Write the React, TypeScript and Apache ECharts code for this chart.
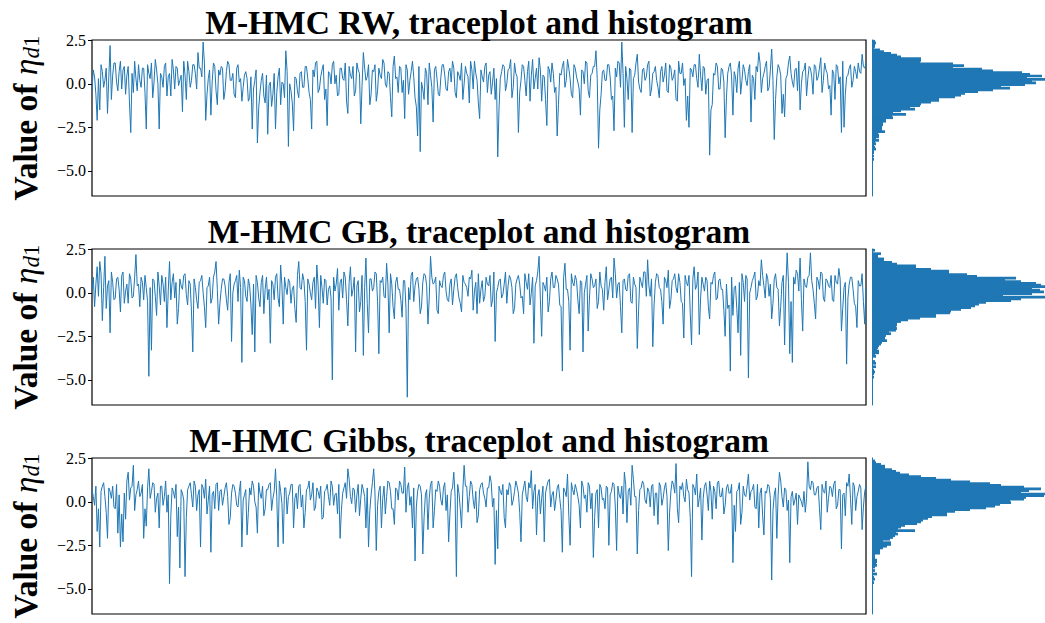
import React, { useEffect, useRef } from "react";
import * as echarts from "echarts";

// Panel titles
const titles = [
  "M-HMC RW, traceplot and histogram",
  "M-HMC GB, traceplot and histogram",
  "M-HMC Gibbs, traceplot and histogram",
];

// Y tick labels
const yTicks = [-5, -2.5, 0, 2.5];
const yMin = -6.45;
const yMax = 2.52;

// Traceplot values: even iterations
const traceRW = [
  -0.3, 0.4, -2.1, -1.5, 0.7, 0.2, -1.7, 2.2, 0.5, 1.2, -0.4, 1.3, 0.8, -0.6, 1.0, -2.8, -0.5, 0.3, 1.1, -0.2,
  0.9, -2.6, 0.6, 1.2, 0.1, 0.8, -2.6, 0.4, 1.0, -0.7, 0.6, 1.4, -0.3, 0.9, 0.2, -1.6, 0.5, 1.3, -0.2, 1.1,
  0.6, 1.8, 0.9, 2.4, -2.1, 0.3, -1.8, 1.2, -0.4, 0.8, 1.0, -0.9, 0.7, 1.1, 0.2, -0.6, 0.9, 0.1, -1.0, 0.5,
  0.3, -0.8, -2.6, 0.2, -3.4, -0.5, 0.6, -1.1, -2.9, 0.1, -0.6, -2.6, 0.4, -1.2, 0.0, 1.9, -3.6, -0.4, -2.7, 0.3,
  -0.8, 0.7, -0.2, 1.0, -0.5, -2.6, 0.4, 1.3, -0.3, 0.8, -0.9, -2.4, 0.6, 1.1, 0.0, -0.7, 0.9, 0.3, 1.2, -1.7,
  0.5, 1.0, -0.4, 0.8, -2.3, 1.8, 0.2, 1.1, -0.6, 0.7, -1.0, 0.9, 0.3, 1.2, -0.2, 0.6, -1.9, 1.6, 0.4, 1.0,
  -0.5, -2.0, 0.8, 0.2, 1.3, -0.8, -3.0, -3.9, -0.3, 0.9, -1.2, 0.5, -2.2, 1.0, -0.6, 0.4, 1.1, -0.3, 0.7, 0.1,
  0.9, -0.8, 0.5, 1.2, 0.0, 0.6, -1.1, 0.8, 1.3, 0.2, -2.0, 0.4, 1.0, -0.5, 0.7, 0.1, -0.9, -4.2, 0.3, 1.1,
  -0.4, 0.8, 1.4, -0.2, 0.6, -2.8, 0.2, 1.0, -0.7, 1.3, 0.5, -0.3, 0.9, 1.5, -1.0, 0.4, -2.4, 0.8, 1.2, -0.5,
  -3.0, 0.6, 1.0, -0.2, 1.4, 0.3, -0.8, 0.9, 0.1, -1.8, 0.7, 1.3, -0.4, 0.5, 1.0, 1.9, -3.7, -0.6, 0.8, 0.2,
  1.1, -0.9, -2.7, 0.4, 1.2, 2.4, -2.5, 0.3, 0.9, -2.8, 0.5, 1.7, -0.3, 0.8, 0.2, 1.1, -0.7, 0.6, 1.0, -0.2,
  0.7, 0.1, 1.2, -0.5, 0.9, 0.4, -0.9, 1.3, 0.6, -0.1, -2.1, -2.5, 0.8, 1.1, 0.3, 1.7, -0.4, 0.9, 0.2, -4.1,
  -1.2, 0.5, 1.0, -0.3, 0.8, -3.1, 0.6, 1.2, -1.8, 0.4, 0.9, -0.6, 1.1, 0.2, 0.7, -2.2, 0.3, 1.0, 1.8, -0.5,
  0.6, 1.3, -0.2, 2.0, -3.2, 0.4, 0.9, -1.7, -1.9, 0.5, 1.6, 0.1, 0.8, -0.4, -1.5, 0.7, 1.2, 0.3, 0.9, -0.6,
  1.0, 0.4, 1.5, 0.2, 0.8, -0.3, -1.8, 0.6, 1.1, 0.0, -2.8, -2.5, 0.4, 0.9, -0.2, 1.0, 0.3, 0.7, 1.7, 0.9,
];
// odd iterations
const traceRWOdd = [
  0.8, -0.6, 0.3, 1.1, -0.2, 0.9, 0.4, -0.9, 1.2, 0.1, 0.7, -0.3, 1.0, 0.5, -1.1, 0.6, 1.3, -0.4, 0.2, 0.9,
  -0.5, 1.1, 0.3, -0.8, 1.4, 0.0, 0.6, -0.2, 1.2, 0.4, -0.7, 0.8, 1.0, -0.1, 0.5, 1.3, -0.9, 0.7, 0.2, 1.1,
  -0.3, 0.9, 0.4, 1.2, -0.6, 0.8, 0.1, 1.0, -1.2, 0.5, 0.9, -0.4, 1.3, 0.2, 0.6, -0.8, 1.1, 0.3, -0.2, 0.7,
  -1.0, 0.4, -0.3, 0.8, -1.4, 0.2, -0.7, 0.5, -0.1, -1.3, 0.6, -0.5, 0.9, 0.1, -0.8, 0.7, 0.0, -1.1, 0.4, -0.4,
  0.6, -0.2, 1.0, 0.3, -0.9, 0.8, 1.2, -0.5, 0.4, 1.1, -0.3, 0.7, 0.0, 1.3, 0.5, -0.6, 0.9, 0.2, -1.0, 1.0,
  0.3, -0.7, 1.2, 0.6, -0.1, 0.9, 0.4, -1.2, 0.8, 1.1, -0.4, 0.5, 1.4, 0.0, 0.7, -0.8, 1.0, 0.3, -0.5, 0.9,
  0.2, 1.1, -0.6, 0.7, 0.4, -1.3, 1.0, 0.1, -0.9, 0.6, 1.2, -0.2, 0.8, 0.3, -0.7, 1.1, 0.5, -0.4, 0.9, 1.3,
  -0.5, 0.7, 0.2, -0.9, 1.0, 0.4, 1.3, -0.3, 0.6, -1.1, 0.8, 0.1, 1.2, 0.5, -0.6, 0.9, 0.3, -1.4, 0.7, 1.0,
  0.0, 0.9, -0.8, 1.2, 0.4, -0.5, 1.1, 0.2, 0.7, -1.0, 1.4, 0.3, -0.3, 0.8, 0.5, -0.9, 1.0, 0.1, 0.6, -0.2,
  -1.2, 0.5, 1.3, 0.2, 0.9, -0.6, 1.1, 0.4, -0.3, 0.8, 0.0, 1.2, -0.8, 0.6, 1.0, 0.3, -1.5, 0.7, 0.2, 1.1,
  0.4, -0.7, 0.9, 1.3, -0.2, 0.6, 1.0, -0.9, 0.8, 0.3, 1.2, 0.1, -0.5, 0.9, 0.4, 1.3, -0.3, 0.7, 0.2, -0.8,
  1.0, 0.5, -0.4, 1.1, 0.2, 0.8, -1.0, 0.6, 1.2, 0.3, -0.7, 0.9, 0.4, 1.1, -0.2, 0.5, 1.0, -0.6, 0.3, -1.5,
  0.6, 1.2, -0.3, 0.9, 0.1, -0.8, 1.0, 0.4, 0.7, -0.5, 1.3, 0.2, 0.8, -0.1, 1.1, 0.5, -0.9, 0.7, 1.2, 0.3,
  1.0, -0.4, 0.8, 0.2, -0.9, 1.1, 0.5, -0.6, 0.3, 1.2, 0.6, -0.2, 0.9, 1.3, 0.0, 0.8, -0.7, 1.0, 0.4, 1.1,
  0.2, 0.9, -0.5, 1.2, 0.6, -0.1, 0.8, -0.9, 1.0, 0.4, 1.3, -0.6, 0.5, 1.1, 0.2, 0.7, 1.2, 0.6, 1.0, 1.2,
];

const traceGB = [
  0.2, -0.8, 1.5, 1.8, -1.6, 2.1, 0.4, -2.3, 0.6, -0.3, 0.9, -1.1, 1.2, 0.1, -0.6, 0.8, -0.2, 2.2, 0.5, 0.9,
  -0.4, 0.3, -4.8, -3.3, 0.7, -1.3, 0.4, 1.0, -0.5, -2.0, 1.8, 0.6, -0.3, -1.8, 0.8, 0.2, 1.1, -0.7, 0.5, -3.4,
  0.3, -0.9, 0.7, 0.0, -2.0, 0.4, -0.6, 0.9, 1.8, -1.8, 0.2, 0.8, -0.4, 0.6, -2.8, 0.5, 1.0, 1.3, -4.0, 0.7,
  -0.5, 0.4, -2.4, -3.4, 0.6, -0.8, 1.0, 0.2, -0.4, -2.9, 0.5, 0.9, -0.3, 1.6, -1.8, 0.3, 0.8, -0.6, 0.4, -1.7,
  1.8, 0.2, 0.7, -3.3, 0.5, -0.4, 0.9, 1.6, -2.0, 0.3, 0.8, -0.7, 0.4, -5.0, 0.1, 1.4, 0.6, -0.3, 0.9, -1.9,
  1.5, 0.2, -3.4, 0.7, -0.5, -3.6, 2.0, -2.3, 0.8, 0.3, 1.1, -3.5, 0.6, -0.2, 1.7, -2.3, 0.5, -1.5, 0.9, 0.2,
  -1.4, 0.7, -6.0, -0.4, 1.2, 0.4, 0.9, -1.2, 0.6, 1.0, -1.8, 2.1, 0.5, 0.9, -1.2, 0.4, 1.0, 0.1, -0.5, 0.8,
  0.2, 1.1, -0.3, -1.1, 0.6, 0.3, 0.9, 1.3, 0.1, -1.2, -0.6, 0.7, -0.2, 0.5, 1.0, -0.4, -2.8, 0.3, 0.8, -0.1,
  1.2, 0.4, 0.8, -1.2, 0.5, 1.0, -0.3, -1.2, 0.6, 1.1, 0.0, -2.9, 0.7, 2.1, -2.5, 0.4, 0.9, -0.5, 1.2, 0.3,
  0.8, -0.7, -4.5, 1.7, 0.2, -3.3, 0.6, 1.0, -0.4, 0.7, -3.4, 0.5, -2.2, 1.1, 0.3, 0.8, -0.5, 0.4, -1.0, 1.5,
  0.2, 0.9, 2.0, -0.3, 0.6, -2.3, 0.8, 0.1, 1.1, -0.6, 0.5, -3.2, 0.9, 0.3, 1.2, 1.9, -0.2, -3.1, 0.6, 1.0,
  0.2, -1.8, 0.7, 1.3, -0.4, 0.8, 0.3, 1.1, -0.5, -2.6, 0.6, 1.0, -3.0, 1.5, 0.4, -2.4, 0.9, 0.1, 0.7, -1.5,
  0.5, 1.2, -0.3, 0.8, 0.2, -2.5, -0.9, -4.5, -1.3, 0.4, -2.3, -3.6, 0.6, 1.0, -4.9, 0.3, 0.9, -0.4, 0.7, 1.9,
  0.4, 1.1, -0.2, -1.5, 0.8, 0.3, -1.9, 0.6, -3.0, 2.3, -3.5, -4.0, 0.5, 1.1, 2.0, -2.2, 0.4, 0.9, 2.3, 0.2,
  -1.5, 0.7, 1.2, -0.3, 0.8, 0.4, 1.0, -0.5, 0.6, 1.4, -2.2, 0.3, -4.1, 0.5, 0.9, -0.6, -2.0, 0.4, 1.1, -1.8,
];
const traceGBOdd = [
  0.9, 0.5, -0.2, 1.1, 0.3, -0.9, 0.7, 1.2, -0.4, 0.8, 0.2, 1.0, -0.6, 0.5, 1.1, -0.3, 0.9, 0.4, -0.8, 0.6,
  1.0, -0.5, 0.3, 0.8, -0.2, 1.2, -0.7, 0.5, 0.9, 0.1, -0.4, 1.1, 0.6, -0.9, 0.4, 1.0, -0.1, 0.7, -1.1, 0.8,
  -0.4, 0.6, 1.0, -0.8, 0.3, 0.9, -0.3, 1.2, 0.2, -0.6, 0.8, 0.4, -1.0, 1.1, 0.0, 0.7, -0.5, 0.3, 0.9, -0.2,
  0.8, -0.7, 0.5, 1.0, -0.3, 0.6, -1.2, 0.9, 0.2, 0.7, -0.4, 1.1, -0.8, 0.4, 0.9, -0.1, 0.6, 0.2, -0.9, 1.0,
  0.3, 1.1, -0.5, 0.8, 0.0, 0.6, -0.9, 0.4, 1.0, -0.6, 0.7, 0.2, -0.3, 0.9, 0.5, -1.0, 0.8, 1.2, -0.4, 0.6,
  -0.2, 0.9, 0.4, -1.1, 1.0, 0.3, -0.6, 0.8, 0.1, 1.2, -0.5, 0.7, 0.9, -0.3, 0.5, 1.1, -0.8, 0.6, 0.2, -0.4,
  0.7, -0.9, 0.3, 1.0, -0.5, 0.8, 0.2, -0.8, 1.1, 0.4, -0.3, 0.9, 0.6, -1.0, 0.7, 0.3, 1.2, -0.4, 0.5, -0.7,
  0.9, 0.3, -0.6, 1.0, 0.5, -0.2, 0.8, -1.0, 0.6, 1.1, 0.2, -0.5, 0.9, 0.4, -0.8, 1.2, 0.0, 0.7, -0.3, 0.5,
  -0.6, 1.0, 0.3, -0.9, 0.8, 0.5, -0.2, 1.1, 0.2, -0.7, 0.9, 0.4, 1.2, -0.4, 0.6, 0.1, -1.1, 0.8, 0.3, 1.0,
  0.5, -0.8, 0.9, 0.2, -0.5, 1.1, 0.4, 0.7, -1.2, 0.6, 0.0, 1.0, -0.3, 0.8, 0.4, -0.9, 1.2, 0.2, 0.6, -0.4,
  0.8, -0.3, 1.1, 0.5, -0.8, 0.7, 0.2, 1.0, -0.5, 0.9, 0.3, -1.0, 0.6, 1.2, -0.2, 0.4, 0.8, -0.7, 1.1, 0.3,
  -0.5, 0.9, 0.3, -0.9, 0.7, 1.1, 0.0, 0.6, -0.6, 1.0, 0.4, -1.2, 0.8, 0.2, 1.2, -0.3, 0.5, 0.9, -0.8, 0.6,
  1.0, -0.4, 0.7, 0.2, -1.0, 0.5, -0.7, 0.9, 0.3, -0.9, 0.6, 1.1, -0.5, 0.8, 0.0, 0.7, 1.2, -0.2, 0.4, 1.0,
  -0.3, 0.8, 0.5, -0.6, 1.1, 0.2, -0.8, 1.0, 0.4, 0.6, -0.5, 0.9, 1.3, 0.1, -0.4, 0.8, 0.3, 1.0, 0.7, -0.6,
  0.9, 0.2, 1.1, -0.5, 0.7, 0.3, -0.4, 1.0, 0.5, 0.8, -0.9, 0.6, -0.3, 0.9, 0.2, -0.8, 0.7, 0.4, -0.5, 0.3,
];

const traceGibbs = [
  0.7, -0.2, -1.7, -2.6, 0.9, 0.3, -2.1, 0.6, 0.9, -0.4, -1.8, -2.6, -2.3, -1.0, 1.7, 0.8, 2.1, 0.4, 1.2, 0.5,
  -2.1, -1.4, 1.9, 0.6, 1.0, 0.2, -1.5, 0.9, 0.3, -0.6, -4.7, 0.8, 0.2, -2.0, -3.8, 0.5, -4.3, 0.7, 1.1, -0.3,
  0.9, 0.4, -2.6, 0.8, 1.3, 0.1, -2.9, 0.6, 1.0, -0.5, 0.7, 0.3, 1.1, -1.3, 0.5, 0.9, -0.2, 0.6, -2.6, 0.4,
  -1.9, 0.8, 1.2, 0.0, -1.8, 0.5, 0.9, -0.4, 0.7, 1.1, 0.2, 1.9, -2.6, 0.6, -2.4, 0.8, 0.3, 1.0, -1.5, 0.5,
  0.9, -0.3, -1.5, 0.7, 1.2, 0.4, -0.5, 0.8, 0.2, -1.0, 0.6, 1.0, -0.2, 0.9, 0.4, -0.7, -2.1, 0.5, 1.1, 1.9,
  0.3, 0.8, -0.6, 1.0, 0.2, 0.7, -1.5, -2.6, 0.4, 1.9, -2.8, 0.6, -1.5, 0.9, 0.3, 1.1, -0.4, -1.3, 0.7, 1.2,
  0.5, 2.0, 0.8, -0.2, -1.5, -3.4, 0.6, 0.9, -3.0, 0.4, -1.6, 1.0, -1.5, 0.7, 1.2, 0.1, 0.8, -0.5, -2.3, 0.6,
  1.7, -4.3, 0.5, -1.5, 2.1, 0.9, 0.3, 1.0, -0.4, -1.2, 0.7, 1.1, 0.2, 0.8, 1.5, -0.3, -3.6, -2.7, 0.6, 1.0,
  -1.5, 0.4, 0.9, 0.1, 1.2, 0.5, -2.3, 0.8, 0.3, 1.1, 1.8, 0.6, -1.9, 0.7, 0.2, -2.3, 0.9, 1.3, 0.4, -0.5,
  0.8, 0.2, -2.9, 0.6, 1.6, -2.5, 0.7, 1.0, 0.3, -1.5, 0.9, 0.4, 1.1, -0.4, -3.2, 0.5, -1.5, 0.8, 0.2, 0.9,
  -2.5, 0.6, 1.0, -2.8, 0.4, 0.9, 1.7, -1.2, 0.8, 2.1, 0.3, -3.0, 0.7, 1.2, 0.1, 0.8, -0.3, 1.0, 0.5, -1.3,
  0.9, 0.2, 1.1, -2.8, 0.6, 1.0, 2.2, -1.2, 0.7, 0.3, 1.3, 0.5, -4.3, 0.8, 1.6, 0.2, -2.2, 0.9, 0.4, 1.2,
  -1.0, 0.6, 1.1, 0.3, 0.8, -0.2, 1.0, 0.5, -3.5, -1.7, 0.7, -1.3, 0.9, 0.3, 1.6, 0.6, 1.0, -0.4, -1.5, 0.8,
  -1.9, 0.5, 0.9, -4.5, 0.4, -2.1, 1.7, 0.3, 0.8, -0.5, -3.5, 0.6, 0.1, -1.3, 0.2, -0.3, -0.6, 2.3, 0.7, 1.1,
  0.4, 0.9, -1.6, 0.6, 1.2, 0.2, 0.8, 1.0, -0.4, 0.7, -2.7, 0.5, 1.1, 1.6, -1.3, 0.9, 0.3, 1.0, -1.6, 0.6,
];
const traceGibbsOdd = [
  0.3, 0.9, -0.4, 0.6, 1.1, -0.6, 0.8, 0.2, -0.3, 1.0, 0.4, -0.7, 0.5, 1.2, 0.1, 0.9, -0.5, 0.7, 0.3, 1.0,
  -0.4, 0.8, 0.2, 1.1, -0.6, 0.5, 0.9, -0.2, 1.2, 0.4, -0.8, 0.6, 1.0, -0.3, 0.7, 0.1, -0.9, 0.9, 0.4, 1.2,
  -0.5, 0.7, 1.0, 0.2, -0.7, 0.9, 0.4, -0.4, 1.1, 0.6, -0.2, 0.8, 0.3, -0.9, 1.0, 0.5, -0.3, 1.2, 0.1, 0.7,
  -0.6, 0.4, 0.9, -0.3, 1.1, 0.2, -0.8, 0.7, 1.0, -0.5, 0.6, 0.3, 1.2, -0.1, 0.8, -0.7, 0.5, 1.0, 0.2, -0.4,
  1.0, 0.4, -0.6, 0.8, 0.1, 1.1, -0.3, 0.6, 0.9, -0.9, 0.7, 0.3, 1.2, -0.2, 0.5, 1.0, -0.5, 0.8, 0.2, 1.3,
  -0.1, 0.7, 0.4, -0.8, 1.0, 0.3, 0.8, -0.5, 1.1, 0.5, -0.2, 0.9, 0.2, -0.7, 1.2, 0.6, -0.4, 0.8, 0.1, 1.0,
  0.5, -0.6, 1.1, 0.3, 0.8, -0.3, 1.0, 0.4, -0.9, 0.7, 0.2, 1.2, -0.5, 0.6, 0.9, -0.2, 1.1, 0.4, -0.7, 0.8,
  0.3, 1.0, -0.4, 0.7, 0.9, -0.6, 1.2, 0.1, 0.6, -0.8, 1.0, 0.5, -0.3, 0.8, 1.1, 0.2, -0.5, 0.9, 0.4, -0.9,
  0.7, 1.1, -0.2, 0.6, 0.9, -0.6, 0.4, 1.2, 0.0, 0.8, -0.4, 1.0, 0.3, -0.7, 0.9, 0.5, 1.2, -0.3, 0.6, 0.1,
  1.0, -0.5, 0.8, 0.3, -0.8, 1.1, 0.4, 0.7, -0.2, 1.2, 0.2, -0.6, 0.9, 0.5, -0.9, 0.7, 1.0, 0.1, -0.4, 0.8,
  0.4, 1.1, -0.3, 0.9, 0.2, -0.7, 1.0, 0.6, -0.2, 1.3, 0.3, -0.5, 0.8, 1.0, -0.1, 0.6, 0.9, -0.8, 0.5, 1.1,
  -0.2, 0.8, 0.3, -0.6, 1.2, 0.5, -0.4, 0.9, 1.1, 0.0, 0.7, -0.9, 1.0, 0.4, -0.3, 0.8, 0.2, 1.1, -0.5, 0.6,
  0.9, -0.4, 1.2, 0.3, -0.7, 0.8, 0.5, 1.0, -0.2, 0.6, 1.1, -0.6, 0.4, 0.9, 0.1, 0.7, -0.3, 1.0, 0.5, -0.8,
  0.6, 1.0, 0.2, -0.5, 0.8, 0.4, 1.2, -0.3, 0.7, 0.1, 0.3, -0.2, 0.5, 0.4, 0.0, 0.6, 0.2, 0.9, 1.2, 0.4,
  0.8, -0.4, 1.0, 0.5, -0.6, 0.9, 0.3, 1.2, -0.2, 0.7, 0.4, -0.8, 0.9, 0.2, 1.1, -0.5, 0.6, 0.8, -0.3, 0.9,
];

// Histogram counts, bins of width 0.1, listed from the top bin (2.4..2.5) downward
const histTop = 2.5;
const binWidth = 0.1;
const histRW = [
  3, 4, 3, 3, 2, 8, 12, 19, 25, 29, 49, 49, 48, 81, 92, 81, 110, 121, 150, 158,
  170, 155, 173, 160, 164, 153, 129, 138, 121, 106, 93, 89, 83, 67, 67, 59, 49, 48, 38, 43,
  29, 21, 34, 20, 21, 14, 14, 11, 11, 10, 10, 10, 13, 6, 7, 7, 4, 7, 3, 4,
  2, 3, 4, 2, 2, 1, 2, 0, 2, 1, 0, 1, 0, 1, 0, 1, 1, 0, 1, 0, 1,
];
const histGB = [
  3, 0, 9, 6, 6, 12, 12, 20, 25, 44, 44, 59, 77, 77, 95, 105, 144, 133, 149, 164,
  169, 173, 160, 168, 172, 160, 131, 173, 149, 139, 114, 107, 103, 99, 89, 79, 78, 64, 64, 48,
  36, 29, 25, 25, 24, 25, 24, 17, 19, 14, 13, 13, 15, 10, 9, 7, 6, 5, 7, 7,
  3, 4, 1, 1, 3, 4, 0, 4, 0, 2, 3, 2, 0, 2,
];
const histGibbs = [
  1, 3, 4, 9, 13, 13, 20, 24, 28, 37, 49, 64, 79, 98, 118, 129, 152, 169, 157, 149,
  173, 172, 154, 152, 138, 139, 128, 123, 114, 98, 83, 75, 75, 60, 56, 51, 49, 45, 33, 29,
  26, 43, 24, 26, 23, 21, 18, 11, 19, 19, 15, 11, 8, 8, 8, 3, 3, 3, 5, 5,
  4, 5, 3, 1, 3, 1, 5, 1, 2, 3, 1, 2,
];
const histMax = 173;

const BLUE = "#1f77b4";
const SERIF = "'Liberation Serif', 'DejaVu Serif', serif";

export default function App() {
  const ref = useRef<HTMLDivElement>(null);
  useEffect(() => {
    if (!ref.current) return;
    const chart = echarts.init(ref.current, null, { renderer: "svg" });
    const rows = [
      { title: titles[0], even: traceRW, odd: traceRWOdd, hist: histRW },
      { title: titles[1], even: traceGB, odd: traceGBOdd, hist: histGB },
      { title: titles[2], even: traceGibbs, odd: traceGibbsOdd, hist: histGibbs },
    ];
    const tops = [40, 249, 458];
    const gridH = 156;
    const traceLeft = 92;
    const traceW = 774;
    const histLeft = 872;
    const histW = 173;

    const grid: any[] = [];
    const xAxis: any[] = [];
    const yAxis: any[] = [];
    const series: any[] = [];
    const graphic: any[] = [];
    const fmt = (v: number) => (v < 0 ? "\u2212" : "") + Math.abs(v).toFixed(1);

    rows.forEach((row, r) => {
      const top = tops[r];
      const data: number[][] = [];
      row.even.forEach((v, i) => {
        data.push([2 * i, v]);
        data.push([2 * i + 1, row.odd[i]]);
      });
      grid.push({
        left: traceLeft, top, width: traceW, height: gridH,
        show: true, borderColor: "#000", borderWidth: 1.2, backgroundColor: "transparent",
      });
      grid.push({ left: histLeft, top, width: histW, height: gridH, show: false });
      xAxis.push({ type: "value", gridIndex: 2 * r, min: 0, max: data.length - 1, show: false });
      xAxis.push({ type: "value", gridIndex: 2 * r + 1, min: 0, max: histMax, show: false });
      yAxis.push({
        type: "value", gridIndex: 2 * r, min: yMin, max: yMax,
        axisLine: { show: false },
        splitLine: { show: false },
        axisTick: { show: true, customValues: yTicks, length: 4, lineStyle: { color: "#000", width: 1 } },
        axisLabel: {
          show: true, customValues: yTicks, formatter: fmt, margin: 6,
          fontFamily: SERIF, fontSize: 16, color: "#000",
        },
      });
      yAxis.push({
        type: "value", gridIndex: 2 * r + 1, min: yMin, max: yMax,
        axisLine: { show: true, lineStyle: { color: BLUE, width: 1 } },
        axisTick: { show: false }, axisLabel: { show: false }, splitLine: { show: false },
      });
      series.push({
        type: "line", xAxisIndex: 2 * r, yAxisIndex: 2 * r,
        data,
        symbol: "none", showSymbol: false,
        lineStyle: { color: BLUE, width: 1 },
      });
      series.push({
        type: "custom", xAxisIndex: 2 * r + 1, yAxisIndex: 2 * r + 1,
        data: row.hist.map((c, k) => [histTop - (k + 1) * binWidth, histTop - k * binWidth, c]),
        encode: { x: 2, y: [0, 1] },
        renderItem: (params: any, api: any) => {
          const lo = api.value(0);
          const hi = api.value(1);
          const c = api.value(2);
          if (!c) return null;
          const p0 = api.coord([0, hi]);
          const p1 = api.coord([c, lo]);
          return {
            type: "rect",
            shape: { x: p0[0], y: p0[1] - 0.5, width: p1[0] - p0[0], height: p1[1] - p0[1] + 1 },
            style: { fill: BLUE },
          };
        },
      });
      graphic.push({
        type: "text",
        x: traceLeft + traceW / 2,
        y: top - 1,
        style: {
          text: row.title, align: "center", verticalAlign: "bottom",
          fontFamily: SERIF, fontWeight: "bold", fontSize: 33.5, fill: "#000",
        },
      });
      graphic.push({
        type: "text",
        x: 43,
        y: top + gridH / 2,
        rotation: Math.PI / 2,
        style: {
          text: "{b|Value of }{m|\u03b7}{s|d}{n|1}",
          align: "center", verticalAlign: "bottom",
          rich: {
            b: { fontFamily: SERIF, fontWeight: "bold", fontSize: 33.5, fill: "#000", lineHeight: 36, verticalAlign: "middle" },
            m: { fontFamily: SERIF, fontStyle: "italic", fontSize: 33.5, fill: "#000", lineHeight: 36, verticalAlign: "middle" },
            s: { fontFamily: SERIF, fontStyle: "italic", fontSize: 23, fill: "#000", lineHeight: 22, verticalAlign: "bottom" },
            n: { fontFamily: SERIF, fontSize: 23, fill: "#000", lineHeight: 22, verticalAlign: "bottom" },
          },
        },
      });
    });

    chart.setOption({
      animation: false,
      backgroundColor: "#fff",
      grid, xAxis, yAxis, series, graphic,
    });
    return () => chart.dispose();
  }, []);
  return (
    <div
      ref={ref}
      style={{ position: "fixed", left: 0, top: 0, width: 1045, height: 623, background: "#fff" }}
    />
  );
}
